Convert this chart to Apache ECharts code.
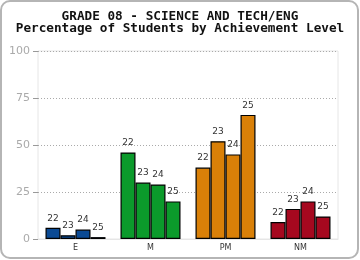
<!DOCTYPE html>
<html><head><meta charset="utf-8">
<script src="https://cdn.jsdelivr.net/npm/echarts@6/dist/echarts.min.js"></script>
<style>html,body{margin:0;padding:0;background:#fff}#c{width:360px;height:260px}</style>
</head><body><div id="c"></div>
<script>
const categories = ['E', 'M', 'PM', 'NM'];
const seriesNames = ['22', '23', '24', '25'];
const values22 = [6, 46, 38, 9];
const values23 = [2, 30, 52, 16];
const values24 = [5, 29, 45, 20];
const values25 = [1, 20, 66, 12];
const categoryColors = ['#0b4a94', '#0b9a2b', '#d98008', '#a6081f'];
const yTicks = [0, 25, 50, 75, 100];

const allValues = [values22, values23, values24, values25];
const chart = echarts.init(document.getElementById('c'), null, {renderer: 'canvas'});
chart.setOption({
  animation: false,
  title: {
    text: 'GRADE 08 - SCIENCE AND TECH/ENG\nPercentage of Students by Achievement Level',
    left: 'center', top: 6,
    textStyle: {fontFamily: 'DejaVu Sans Mono', fontWeight: 'bold', fontSize: 12.7, lineHeight: 12, color: '#111'}
  },
  graphic: [{type: 'rect', shape: {x: 1, y: 1, width: 357, height: 257, r: 9}, style: {fill: 'none', stroke: '#b5b5b5', lineWidth: 2}, silent: true}],
  grid: {left: 38, right: 22, top: 51, bottom: 21, show: true, borderColor: '#e6e6e6', borderWidth: 1},
  xAxis: {
    type: 'category', data: categories,
    axisLine: {show: true, lineStyle: {color: '#e6e6e6'}},
    axisTick: {show: false},
    axisLabel: {fontFamily: 'DejaVu Sans', fontSize: 8, color: '#333', margin: 5}
  },
  yAxis: {
    type: 'value', min: 0, max: 100, interval: 25,
    axisLine: {show: false},
    axisTick: {show: true, length: 5, lineStyle: {color: '#999'}},
    axisLabel: {fontFamily: 'DejaVu Sans', fontSize: 11, color: '#aaa', margin: 8,
      formatter: v => yTicks.includes(v) ? String(v) : ''},
    splitLine: {show: true, lineStyle: {color: '#aaa', type: [1, 2], width: 1}}
  },
  series: seriesNames.map((name, si) => ({
    name: name, type: 'bar', barGap: '0%', barCategoryGap: '20%',
    data: allValues[si].map((v, ci) => ({value: v, itemStyle: {color: categoryColors[ci]}})),
    itemStyle: {borderColor: '#000', borderWidth: 1.2, borderRadius: 0},
    label: {show: true, position: 'top', distance: 5, formatter: name,
      fontFamily: 'DejaVu Sans', fontSize: 9, color: '#333'}
  }))
});
</script></body></html>
